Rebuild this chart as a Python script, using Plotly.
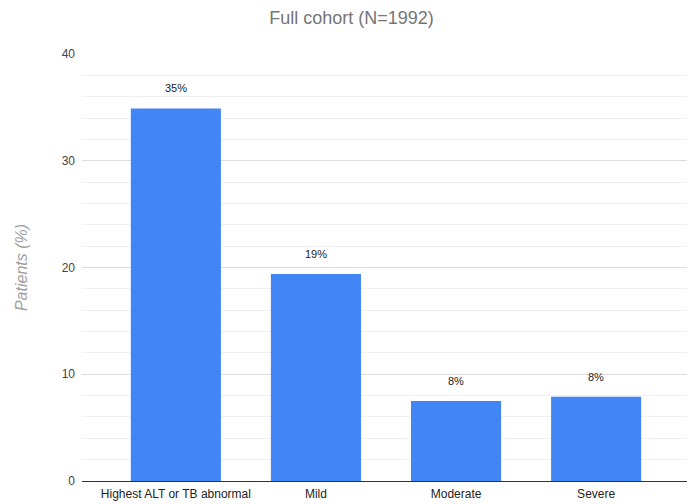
import plotly.graph_objects as go

categories = ["Highest ALT or TB abnormal", "Mild", "Moderate", "Severe"]
values = [34.9, 19.4, 7.5, 7.9]
labels = ["35%", "19%", "8%", "8%"]
y_ticks = [0, 10, 20, 30, 40]

fig = go.Figure()
fig.add_trace(go.Bar(
    x=categories, y=values,
    marker=dict(color="#4285f4", line=dict(width=0)),
))
for c, v, t in zip(categories, values, labels):
    fig.add_annotation(x=c, y=v, text=t, showarrow=False, yanchor="bottom", yshift=12,
                       font=dict(family="Liberation Sans, Arial", size=11, color="#222"))
fig.update_layout(
    width=687, height=496,
    margin=dict(l=74, r=5, t=46, b=23),
    paper_bgcolor="white", plot_bgcolor="white",
    bargap=0.357,
    showlegend=False,
    title=dict(text="Full cohort (N=1992)", x=0.5, xanchor="center", y=0.993, yanchor="top",
               font=dict(family="Liberation Sans, Arial", size=18, color="#757575")),
    font=dict(family="Liberation Sans, Arial", size=12, color="#222"),
)
fig.update_xaxes(range=[-0.67, 3.67], showgrid=False, showline=False, ticks="",
                 ticklabelstandoff=4,
                 tickfont=dict(size=12, color="#222"), automargin=False)
fig.update_yaxes(range=[0, 40], tickvals=y_ticks, showgrid=True, gridcolor="#dddddd", gridwidth=1,
                 minor=dict(dtick=2, showgrid=True, gridcolor="#f0f0f0", gridwidth=1),
                 zeroline=True, zerolinecolor="#333333", zerolinewidth=1,
                 ticks="", ticklabelstandoff=6, automargin=False,
                 tickfont=dict(size=12, color="#444"),
                 title=dict(text="<i>Patients (%)</i>", standoff=30,
                            font=dict(size=16, color="#9e9e9e")))
fig.write_html("out.html")
